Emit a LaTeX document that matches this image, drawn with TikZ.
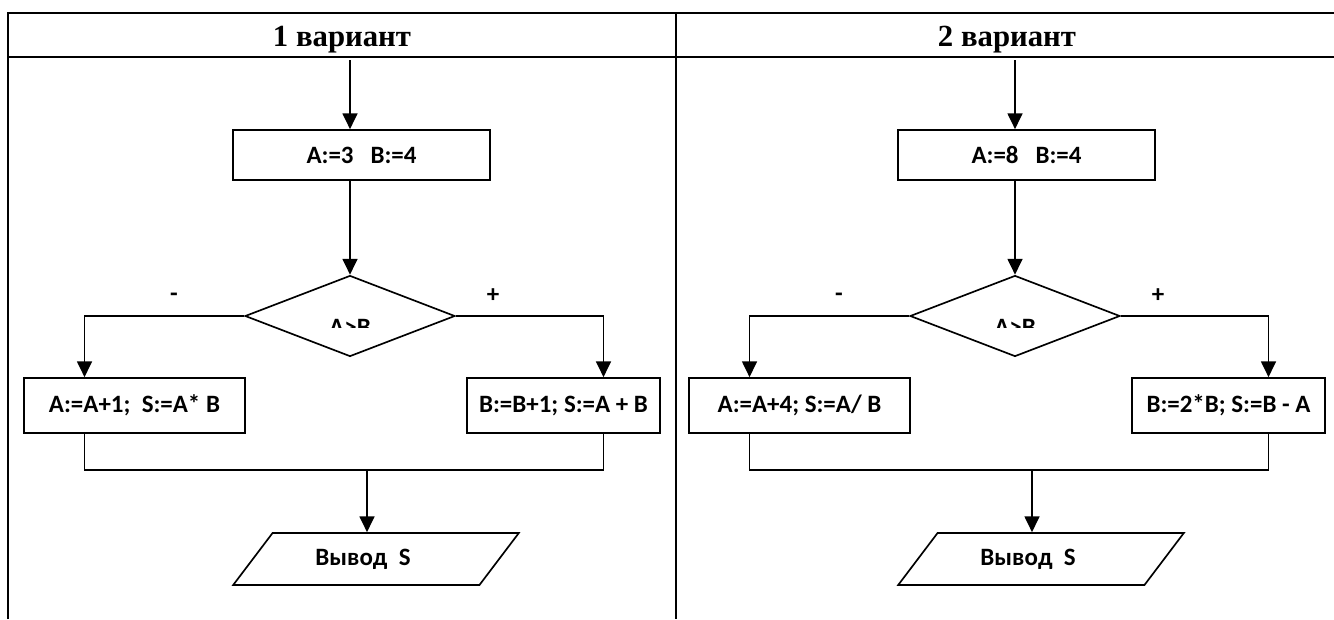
\documentclass[tikz,border=0pt]{standalone}
\usepackage{fontspec}
\setmainfont{Carlito}
\newfontfamily\hdrfont{Liberation Serif}
\usetikzlibrary{arrows.meta, shapes.geometric, positioning}

\tikzset{
  tbl/.style={line width=1.15pt},
  ln/.style={line width=0.95pt},
  arr/.style={ln, -{Triangle[width=8.5pt,length=9pt]}},
  txt/.style={inner sep=0pt, font=\fontsize{14.2}{17}\selectfont\bfseries},
  blk/.style={txt, draw, ln, minimum height=1.1cm},
  dmd/.style={draw, ln, diamond, minimum width=4.2cm, minimum height=1.62cm, inner sep=0pt},
  outp/.style={txt, draw, ln, trapezium, trapezium left angle=41.5, trapezium right angle=138.5,
    trapezium stretches=true, minimum width=5.72cm, minimum height=1.04cm},
  hdr/.style={anchor=base, inner sep=0pt, font=\hdrfont\fontsize{17.5}{20}\selectfont\bfseries}
}

\begin{document}
\begin{tikzpicture}[x=0.02cm, y=-0.02cm]
\useasboundingbox (0,0) rectangle (1334,619);
% table frame
\draw[tbl] (8,619) -- (8,12.7) -- (1334,12.7);
\draw[tbl] (8,57) -- (1334,57);
\draw[tbl] (676,12.7) -- (676,619);
% both variants
\foreach \dx/\v/\itxt/\ntxt/\ptxt in {0/1/{A:=3\ \ \ B:=4}/{A:=A+1;\ \ S:=A* B}/{B:=B+1; S:=A + B},
    665/2/{A:=8\ \ \ B:=4}/{A:=A+4; S:=A/ B}/{B:=2*B; S:=B - A}} {
  \node[hdr] (hd\v) at (\dx+342,46) {\v\ вариант};
  \coordinate (in\v) at (\dx+350,60);
  \node[blk, minimum width=5.14cm, minimum height=1cm] (ini\v) at (\dx+361.5,155) {\itxt};
  \node[dmd] (cnd\v) at (\dx+350,316) {};
  \begin{scope}
    \clip (\dx+300,300) rectangle (\dx+400,327);
    \node[txt, anchor=north] (cnt\v) at (\dx+350,318.5) {A>B};
  \end{scope}
  \node[txt] (mns\v) at (\dx+174,297) {-};
  \node[txt] (pls\v) at (\dx+493,296) {+};
  \node[blk, minimum width=4.42cm] (neg\v) at (\dx+134.5,405.5) {\ntxt};
  \node[blk, minimum width=3.86cm] (pos\v) at (\dx+563.5,405.5) {\ptxt};
  \coordinate (jn\v) at (\dx+367,470);
  \node[outp] (out\v) at (\dx+376,559) {Вывод\ \ S\kern0.52cm};
  \draw[arr] (in\v) -- (in\v |- ini\v.north);
  \draw[arr] (cnd\v.north |- ini\v.south) -- (cnd\v.north);
  \draw[arr] (cnd\v.west) -| ([xshift=-1cm]neg\v.north);
  \draw[arr] (cnd\v.east) -| ([xshift=0.8cm]pos\v.north);
  \draw[ln] ([xshift=-1cm]neg\v.south) |- (jn\v) -| ([xshift=0.8cm]pos\v.south);
  \draw[arr] (jn\v) -- (jn\v |- out\v.north);
}
\end{tikzpicture}
\end{document}
